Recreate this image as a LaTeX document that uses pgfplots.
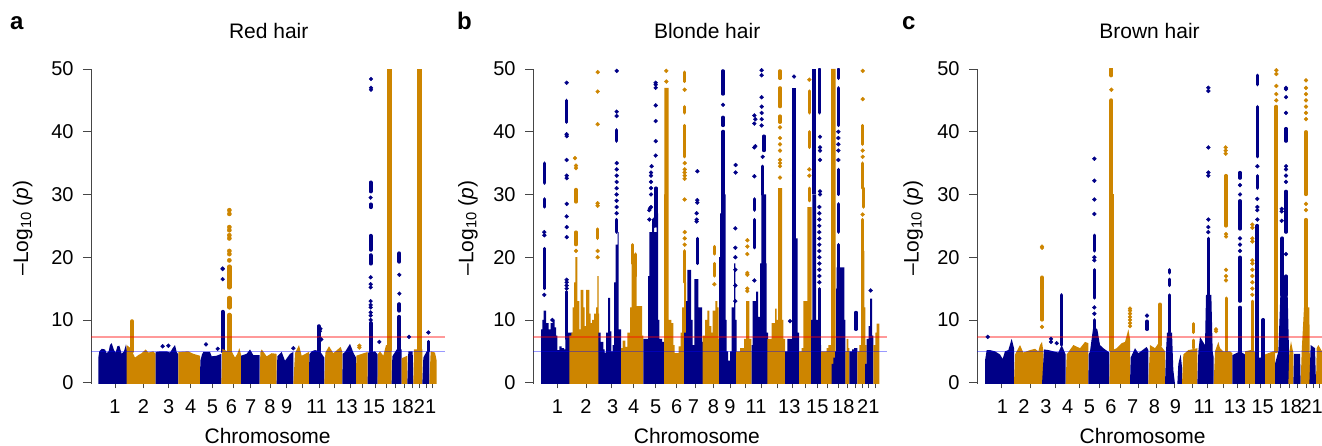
\documentclass[border=0pt]{standalone}
\usepackage{fontspec}
\setmainfont{Liberation Sans}
\usepackage{pgfplots}
\pgfplotsset{compat=1.18}
\definecolor{nv}{RGB}{0,0,135}
\definecolor{og}{RGB}{205,133,0}
\definecolor{axg}{RGB}{70,70,70}
\newcommand\TL[2]{\hspace*{#1pt}#2}
\newcommand\fs{\fontsize{20}{22}\selectfont}
\newcommand\fl{\fontsize{21}{23}\selectfont}
\pgfplotsset{
 panel/.style={scale only axis, height=314.95pt, ymin=-0.2, ymax=50,
  axis x line=bottom, axis y line=left,
  axis line style={-}, y axis line style={draw=axg,line width=1pt}, x axis line style={draw=none},
  ytick={0,10,20,30,40,50},
  /pgf/number format/assume math mode=true,
  tick label style={font=\fs, text=black},
  label style={font=\fl}, title style={font=\fl, anchor=base},
  tick align=outside,
  ytick style={draw=axg,line width=0.9pt,/pgfplots/major tick length=8pt},
  xtick style={draw=axg,line width=0.9pt,/pgfplots/major tick length=4.5pt},
  yticklabel style={inner sep=0pt, xshift=-13pt},
  xticklabel style={inner sep=0pt, yshift=-11pt},
  ylabel={–Log\textsubscript{10} (\textit{p})}, xlabel={Chromosome},
 },
 m/.style={draw=none,fill=#1},
 k/.style={const plot,draw=none,fill=#1},
 D/.style={only marks, mark=*, mark size=#1, mark options={draw=none}},
 nd/.style={D=1.95pt, color=nv},
 od/.style={D=1.95pt, color=og},
 nc/.style={draw=nv, line width=#1pt, line cap=round, no marks},
 oc/.style={draw=og, line width=#1pt, line cap=round, no marks},
 rl/.style={draw=red, opacity=0.4, line width=1.6pt, no marks},
 bl/.style={draw=blue, opacity=0.4, line width=1.1pt, no marks},
}
\begin{document}
\begin{tikzpicture}[x=1pt,y=1pt]
\path[use as bounding box] (0,0) rectangle (1322,445);
\node[font=\bfseries\fontsize{24}{24}\selectfont, anchor=base west, inner sep=0pt] at (10,415) {a};
\node[font=\bfseries\fontsize{24}{24}\selectfont, anchor=base west, inner sep=0pt] at (457,415) {b};
\node[font=\bfseries\fontsize{24}{24}\selectfont, anchor=base west, inner sep=0pt] at (902,415) {c};

% ---------------- panel a
\begin{axis}[panel, at={(91pt,61.05pt)}, anchor=south west, width=354pt, xmin=273, xmax=1335,
 title={Red hair}, title style={at={(0.502,1.078)}},
 xlabel style={at={(0.499,-0.1875)},anchor=base},
 ylabel style={at={(-0.193,0.495)},anchor=center},
 xtick={345,430,506,572,637,700,752,810,860,908,957,1003,1050,1088,1127,1158,1187,1212,1237,1258,1278,1298},
 xticklabels={1,2,3,4,5,\TL{-4}{6},7,8,9,{},\TL{-4.6}{11},{},\TL{-6.6}{13},{},\TL{-3.4}{15},{},{},\TL{-2.6}{18},{},{},\TL{-2}{21},{}}]
\addplot[m=nv] coordinates {(295,-0.2)(295,4)(298,5)(305,5.4)(315,5.3)(320,4.7)(326,5)(330,6)(335,6.3)(342,5.2)(347,4.8)(352,5.8)(358,5.9)(365,4.6)(372,5)(378,6.1)(381,5)(381,-0.2)} --cycle;
\addplot[m=og] coordinates {(380,-0.2)(380,6)(392,5.5)(405,4)(415,4.4)(425,4.7)(437,5.3)(445,4.8)(460,5)(467,4.6)(467,-0.2)} --cycle;
\addplot[oc=4] coordinates {(396,5)(396,9.8)};
\addplot[m=nv] coordinates {(467,-0.2)(467,4.9)(480,5)(490,5)(500,5)(510,4.8)(518,5.5)(525,6)(530,4.9)(535,4.5)(535,-0.2)} --cycle;
\addplot[nd] coordinates {(488,5.8)(505,5.9)};
\addplot[m=og] coordinates {(535,-0.2)(535,4.9)(565,5)(580,4.6)(600,4.3)(600,-0.2)} --cycle;
\addplot[m=nv] coordinates {(600,-0.2)(601,3.5)(606,4.5)(610,4.9)(630,4.9)(635,4.2)(650,4.3)(664,4.6)(664,-0.2)} --cycle;
\addplot[nc=4] coordinates {(668,5)(668,11.3)};
\addplot[D=1.9pt,color=nv] coordinates {(618,6.1)(653,5.4)(668,16.5)(668,18.2)(668,18.1)};
\addplot[m=og] coordinates {(664,-0.2)(667,5.4)(682,5)(695,5)(705,4)(712,4.6)(718,5.5)(723,4.5)(723,-0.2)} --cycle;
\addplot[oc=4.5] coordinates {(688,5)(688,10.8)};
\addplot[oc=4.4] coordinates {(688,15.2)(688,18.5)};
\addplot[oc=4.4] coordinates {(688,12)(688,13.5)};
\addplot[D=2.1pt,color=og] coordinates {(688,19.5)(688,20.5)(688,21)(688,23)(688,23.5)(688,24.3)(688,24.8)(688,26.9)(688,27.5)};
\addplot[m=nv] coordinates {(723,-0.2)(723,4.3)(740,4.6)(750,5.3)(760,4.4)(779,4.4)(779,-0.2)} --cycle;
\addplot[m=og] coordinates {(779,-0.2)(781,4.8)(785,5.3)(800,4.2)(815,4.7)(830,4.6)(830,-0.2)} --cycle;
\addplot[m=nv] coordinates {(830,-0.2)(832,4.2)(845,4.9)(855,3.5)(870,4.6)(880,4.9)(880,-0.2)} --cycle;
\addplot[nd] coordinates {(880,5.5)};
\addplot[m=og] coordinates {(880,-0.2)(885,4.7)(897,6)(905,4.3)(927,4.9)(927,-0.2)} --cycle;
\addplot[m=nv] coordinates {(927,-0.2)(928,4.5)(935,5)(945,5.2)(960,5)(973,4)(973,-0.2)} --cycle;
\addplot[nc=4] coordinates {(956,5)(956,9)};
\addplot[nd] coordinates {(960,8.2)(961,8.6)(958,6.9)(964,6.9)};
\addplot[m=og] coordinates {(973,-0.2)(976,4.8)(987,5.8)(1000,4.7)(1022,5.7)(1027,4.9)(1027,-0.2)} --cycle;
\addplot[m=nv] coordinates {(1027,-0.2)(1028,4.6)(1035,4.9)(1050,6.2)(1060,4.8)(1068,4)(1068,-0.2)} --cycle;
\addplot[m=og] coordinates {(1068,-0.2)(1069,4.3)(1080,4.5)(1103,4.9)(1103,-0.2)} --cycle;
\addplot[od] coordinates {(1078,5.6)(1078,5.9)};
\addplot[m=nv] coordinates {(1103,-0.2)(1104,4.8)(1125,5)(1133,4.5)(1133,-0.2)} --cycle;
\addplot[nc=4] coordinates {(1112,5)(1112,9.5)};
\addplot[nc=4.2] coordinates {(1112,19)(1112,20.3)};
\addplot[nc=4.2] coordinates {(1112,21.2)(1112,23.4)};
\addplot[nc=4.2] coordinates {(1112,28)(1112,28.4)};
\addplot[nc=4.2] coordinates {(1112,30.5)(1112,31.9)};
\addplot[D=1.9pt,color=nv] coordinates {(1112,10)(1112,10.7)(1112,11.2)(1112,12)(1112,12.4)(1112,13)(1112,15.2)(1112,15.7)(1112,16.8)(1112,29.5)(1113,46.7)(1113,47)(1113,48.4)(1138,6.5)};
\addplot[m=og] coordinates {(1133,-0.2)(1134,4.6)(1140,5)(1150,4.3)(1158,6)(1175,6)(1175,-0.2)} --cycle;
\addplot[draw=og,line width=4.7pt,no marks] coordinates {(1169,5)(1169,50)};
\addplot[m=nv] coordinates {(1175,-0.2)(1177,4.2)(1190,5.3)(1205,5.3)(1205,-0.2)} --cycle;
\addplot[nc=4] coordinates {(1198,5)(1198,10.5)};
\addplot[nc=4.2] coordinates {(1198,19.3)(1198,20.6)};
\addplot[nc=4.2] coordinates {(1198,11.5)(1198,12.5)};
\addplot[D=1.9pt,color=nv] coordinates {(1198,14.2)(1198,17.2)(1227,7.3)};
\addplot[m=og] coordinates {(1205,-0.2)(1205,3.9)(1222,4.3)(1222,-0.2)} --cycle;
\addplot[m=nv] coordinates {(1222,-0.2)(1225,5)(1238,5)(1240,-0.2)} --cycle;
\addplot[m=og] coordinates {(1240,-0.2)(1242,5.3)(1267,5.3)(1267,-0.2)} --cycle;
\addplot[draw=og,line width=4.7pt,no marks] coordinates {(1258,5)(1258,50)};
\addplot[m=nv] coordinates {(1267,-0.2)(1270,4)(1280,5)(1288,5)(1288,-0.2)} --cycle;
\addplot[nc=3] coordinates {(1285,5)(1285,6.6)};
\addplot[nd] coordinates {(1285,8)};
\addplot[m=og] coordinates {(1288,-0.2)(1292,5)(1305,4.8)(1310,3.5)(1310,-0.2)} --cycle;
\addplot[rl] coordinates {(273,7.3)(1335,7.3)};
\addplot[bl] coordinates {(273,5)(1335,5)};
\end{axis}

% ---------------- panel b
\begin{axis}[panel, at={(533pt,61.05pt)}, anchor=south west, width=354pt, xmin=249, xmax=1311,
 title={Blonde hair}, title style={at={(0.492,1.078)}},
 xlabel style={at={(0.463,-0.1875)},anchor=base},
 ylabel style={at={(-0.184,0.495)},anchor=center},
 xtick={322,408,485,551,617,678,737,790,840,887,935,982,1027,1067,1102,1133,1165,1192,1215,1237,1255,1276},
 xticklabels={1,2,\TL{2}{3},4,5,\TL{1.3}{6},\TL{-4.6}{7},8,9,{},\TL{-11.3}{11},{},\TL{-6}{13},{},15,{},{},\TL{-8}{18},{},{},21,{}}]
\addplot[k=nv] coordinates {(273,-0.2)(273,8.5)(277,10)(281,11.5)(288,9.5)(296,8.5)(302,9.5)(308,10)(314,8.8)(318,7.5)(322,5.2)(328,5.8)(335,5.5)(342,5.3)(346,8)(368,-0.2)} --cycle;
\addplot[nc=3.3] coordinates {(283,15)(283,21.4)};
\addplot[nc=3.3] coordinates {(283,31.8)(283,35)};
\addplot[nc=3.3] coordinates {(283,28)(283,29.3)};
\addplot[nd] coordinates {(283,14)(283,23.5)(283,24)(307,10)};
\addplot[nc=3] coordinates {(350,7)(350,14.5)};
\addplot[nc=3.3] coordinates {(350,41.5)(350,45)};
\addplot[nd] coordinates {(350,15)(350,15.5)(350,16)(350,16.4)(350,23.2)(350,24.8)(350,26.5)(350,28.5)(350,32.6)(350,33)(350,35.5)(350,39.3)(350,39.6)(350,47.8)};
\addplot[k=og] coordinates {(358,-0.2)(358,7.5)(364,8)(368,12)(372,16)(376,20)(382,13)(388,8.5)(392,14.8)(396,14.8)(400,12)(404,9)(408,14.8)(412,14.8)(418,11)(422,9.5)(426,10)(432,11)(438,12)(442,17)(446,11)(447,-0.2)} --cycle;
\addplot[oc=3.3] coordinates {(378,28.8)(378,30.8)};
\addplot[oc=3.3] coordinates {(378,22)(378,24)};
\addplot[od] coordinates {(378,21)(378,34.2)(378,34.6)(375,35.8)};
\addplot[oc=3.3] coordinates {(443,23)(443,24.5)};
\addplot[od] coordinates {(443,20)(443,21)(443,28.2)(443,28.6)(443,41.2)(443,46.4)(443,49.5)};
\addplot[k=nv] coordinates {(445,-0.2)(445,8)(452,6.5)(460,5.3)(464,4.8)(468,8)(474,13.5)(480,8.2)(484,5)(488,6)(492,16)(497,22)(503,24)(506,8.5)(513,-0.2)} --cycle;
\addplot[nc=3.5] coordinates {(500,24)(500,26)};
\addplot[nc=3.3] coordinates {(500,38.5)(500,40.3)};
\addplot[nd] coordinates {(500,27)(500,28)(500,29)(500,30)(500,31)(500,32)(500,33)(500,34)(500,35)(500,42.5)(500,43.2)(500,49.7)};
\addplot[k=og] coordinates {(513,-0.2)(513,5.5)(518,6.7)(526,5.7)(532,8)(540,12)(545,19)(552,20)(560,12.2)(572,12.2)(576,7.5)(580,-0.2)} --cycle;
\addplot[oc=3.3] coordinates {(548,19)(548,22)};
\addplot[oc=3.3] coordinates {(556,17)(556,20.5)};
\addplot[k=nv] coordinates {(580,-0.2)(580,7)(590,7)(594,17)(598,24)(606,26)(612,24)(620,27)(624,10)(628,7)(636,6.5)(642,-0.2)} --cycle;
\addplot[nc=3.5] coordinates {(618,25)(618,31)};
\addplot[nd] coordinates {(598,27.5)(600,27.8)(603,28)(598,26)(603,30)(603,31)(603,32)(603,33)(603,33.5)(605,34.5)(617,36.2)(617,38.5)(617,41.7)(617,44.2)(617,47)(617,47.5)(617,47.8)(612,25)(612,26)};
\addplot[k=og] coordinates {(642,-0.2)(642,30)(643,47)(656,10)(664,9.5)(670,6)(674,4.7)(686,5.8)(692,8)(696,12)(702,16)(708,-0.2)} --cycle;
\addplot[oc=3.5] coordinates {(704,16)(704,21)};
\addplot[oc=3.3] coordinates {(704,36)(704,41)};
\addplot[oc=3.3] coordinates {(704,43)(704,44)};
\addplot[oc=3.3] coordinates {(704,48)(704,49.5)};
\addplot[od] coordinates {(704,22)(704,23)(704,24)(704,29.2)(704,32.5)(704,33)(704,33.5)(704,34)(704,35)(704,46.7)(649,48)(649,49.7)};
\addplot[k=nv] coordinates {(702,-0.2)(702,8)(708,13)(712,18)(723,10)(728,6)(733,16.5)(745,12)(756,6.5)(760,-0.2)} --cycle;
\addplot[nc=3.3] coordinates {(742,19)(742,23)};
\addplot[nd] coordinates {(740,25.7)(740,26)(740,27)(742,28.7)(742,29.1)(742,33.7)};
\addplot[k=og] coordinates {(758,-0.2)(758,7.5)(765,10)(772,11.5)(778,9)(784,8)(788,11.5)(796,13)(802,12)(806,7)(807,-0.2)} --cycle;
\addplot[oc=3.3] coordinates {(793,17)(793,19)};
\addplot[oc=3.3] coordinates {(793,20.5)(793,21.7)};
\addplot[od] coordinates {(793,15.7)};
\addplot[k=nv] coordinates {(807,-0.2)(807,20)(810,27)(813,30)(827,10)(830,5)(834,3.5)(840,5)(845,12)(852,19)(856,10)(860,-0.2)} --cycle;
\addplot[nc=4] coordinates {(820,30)(820,40)};
\addplot[nc=3.3] coordinates {(819,41)(819,42.3)};
\addplot[nc=3.3] coordinates {(819,46)(819,49.7)};
\addplot[nd] coordinates {(819,44.3)(856,18)(856,20)(856,21.5)(856,24.6)(857,33.5)(857,34.7)(856,15.5)(856,13)};
\addplot[k=og] coordinates {(858,-0.2)(858,5)(870,5.5)(882,7)(888,13)(898,7)(904,5)(905,-0.2)} --cycle;
\addplot[od] coordinates {(892,15)(892,17.5)(892,20.5)(892,21.7)(892,22.7)(892,14.6)(892,17.2)};
\addplot[k=nv] coordinates {(905,-0.2)(905,6)(908,13)(918,14.5)(924,10.5)(930,19)(934,30)(948,19)(950,8)(954,5.8)(957,-0.2)} --cycle;
\addplot[nc=3.3] coordinates {(913,21.5)(913,26)};
\addplot[nc=3.3] coordinates {(913,27.5)(913,29.3)};
\addplot[nd] coordinates {(913,16.3)(913,32.9)(913,37.5)(913,41.3)(913,42.6)(916,37.7)(916,42)};
\addplot[nc=3.3] coordinates {(938,30)(938,34.5)};
\addplot[nc=3.3] coordinates {(942,37)(942,39.3)};
\addplot[nd] coordinates {(938,36)(935,41)(935,42)(935,43)(935,44)(935,45.5)(935,49)(935,49.8)};
\addplot[k=og] coordinates {(952,-0.2)(952,7)(965,9.5)(975,11.8)(980,10)(984,31)(996,10)(1000,7)(1005,-0.2)} --cycle;
\addplot[oc=3.3] coordinates {(990,41.5)(990,42.5)};
\addplot[oc=3.3] coordinates {(990,44)(990,47)};
\addplot[oc=3.3] coordinates {(990,48.5)(990,49.7)};
\addplot[od] coordinates {(990,32.7)(990,34.5)(990,35)(990,35.5)(990,37)(990,38)(990,39)(990,40.7)};
\addplot[k=nv] coordinates {(1005,-0.2)(1005,5)(1012,7)(1025,7)(1037,23)(1043,8)(1047,-0.2)} --cycle;
\addplot[draw=nv,line width=3.8pt,no marks] coordinates {(1032,5)(1032,47)};
\addplot[nd] coordinates {(1032,48.8)(1020,9.8)};
\addplot[k=og] coordinates {(1047,-0.2)(1047,5)(1055,5.5)(1060,13)(1072,28)(1085,-0.2)} --cycle;
\addplot[oc=3.3] coordinates {(1078,29)(1078,31)};
\addplot[oc=3.3] coordinates {(1078,37.5)(1078,40)};
\addplot[oc=3.3] coordinates {(1078,43)(1078,46.5)};
\addplot[od] coordinates {(1078,33)(1078,34)(1078,48.3)};
\addplot[k=nv] coordinates {(1083,-0.2)(1083,10)(1087,30)(1098,10)(1105,6)(1113,-0.2)} --cycle;
\addplot[draw=nv,line width=4pt,no marks] coordinates {(1092,30)(1092,50)};
\addplot[nc=2.8] coordinates {(1108,5)(1108,15)};
\addplot[nc=3.3] coordinates {(1108,43)(1108,50)};
\addplot[nd] coordinates {(1108,16)(1108,17)(1108,18)(1108,19)(1108,20)(1108,21)(1108,22)(1108,23)(1108,24)(1108,25)(1108,26)(1108,27)(1108,28)(1110,30)(1110,30.5)(1110,35.5)(1110,37)(1110,37.5)(1110,39.2)};
\addplot[k=og] coordinates {(1113,-0.2)(1113,5)(1130,5.5)(1135,6)(1143,50)(1157,-0.2)} --cycle;
\addplot[k=nv] coordinates {(1145,-0.2)(1145,3)(1150,4)(1155,5)(1158,15)(1160,18.4)(1183,10)(1186,5)(1187,-0.2)} --cycle;
\addplot[nc=3.5] coordinates {(1165,18)(1165,22)};
\addplot[nc=3.5] coordinates {(1165,24)(1165,28.5)};
\addplot[nc=3.3] coordinates {(1165,30)(1165,34)};
\addplot[nc=3.3] coordinates {(1165,41)(1165,47)};
\addplot[nc=3.3] coordinates {(1165,48.5)(1165,50)};
\addplot[nd] coordinates {(1165,35.5)(1165,37)(1165,38)(1165,39)(1165,40)};
\addplot[k=og] coordinates {(1186,-0.2)(1186,5)(1190,7)(1195,5.5)(1198,-0.2)} --cycle;
\addplot[k=nv] coordinates {(1198,-0.2)(1198,5)(1206,5.3)(1212,5.5)(1222,-0.2)} --cycle;
\addplot[nc=3.3] coordinates {(1218,8.5)(1218,11.2)};
\addplot[k=og] coordinates {(1222,-0.2)(1222,5)(1228,6)(1233,21)(1243,12)(1246,6)(1250,-0.2)} --cycle;
\addplot[oc=3.5] coordinates {(1238,21)(1238,26)};
\addplot[oc=3.5] coordinates {(1240,28)(1240,31)};
\addplot[oc=3.3] coordinates {(1238,31)(1238,35)};
\addplot[oc=3.3] coordinates {(1238,38)(1238,41)};
\addplot[od] coordinates {(1238,26.8)(1238,36)(1238,37)(1238,45.2)(1238,49.7)};
\addplot[k=nv] coordinates {(1245,-0.2)(1245,3)(1250,7)(1256,9)(1260,13.4)(1266,7.5)(1270,-0.2)} --cycle;
\addplot[nd] coordinates {(1262,14.7)};
\addplot[k=og] coordinates {(1270,-0.2)(1270,6)(1276,8)(1280,9.4)(1288,-0.2)} --cycle;
\addplot[rl] coordinates {(249,7.3)(1311,7.3)};
\addplot[bl] coordinates {(249,5)(1311,5)};
\end{axis}

% ---------------- panel c
\begin{axis}[panel, at={(977pt,61.05pt)}, anchor=south west, width=345pt, xmin=261, xmax=1296,
 title={Brown hair}, title style={at={(0.5,1.078)}},
 xlabel style={at={(0.48,-0.1875)},anchor=base},
 ylabel style={at={(-0.185,0.495)},anchor=center},
 xtick={335,421,497,567,628,692,745,800,852,907,953,1000,1042,1078,1110,1140,1172,1198,1222,1248,1270,1288},
 xticklabels={\TL{1.3}{1},\TL{-12.7}{2},\TL{-19.3}{3},\TL{-22.7}{4},\TL{-20}{5},\TL{-19.3}{6},\TL{-11.3}{7},\TL{-4.7}{8},\TL{2.7}{9},{},\TL{-7.3}{11},{},\TL{-4.7}{13},{},\TL{5.3}{15},{},{},\TL{3.3}{18},{},{},\TL{-3.3}{21},{}}]
\addplot[m=nv] coordinates {(285,-0.2)(285,3.5)(290,5.2)(300,5.2)(315,5)(330,4.5)(338,3.8)(345,5)(355,5.2)(365,7)(372,5.5)(372,-0.2)} --cycle;
\addplot[nd] coordinates {(293,7.3)};
\addplot[m=og] coordinates {(372,-0.2)(375,4.5)(390,6)(400,4.8)(420,5.2)(435,5.4)(445,5)(450,6)(456,6.5)(460,5)(460,-0.2)} --cycle;
\addplot[oc=3.3] coordinates {(456,10)(456,14.8)};
\addplot[oc=3.6] coordinates {(456,15)(456,16.8)};
\addplot[D=1.9pt,color=og] coordinates {(456,8.9)(456,21.5)(456,21.7)};
\addplot[m=nv] coordinates {(456,-0.2)(462,5.3)(475,5.2)(490,5)(505,4.8)(515,6)(527,4.5)(527,-0.2)} --cycle;
\addplot[nc=3.5] coordinates {(514,6)(514,14)};
\addplot[nd] coordinates {(483,6.5)(483,7)(500,6.3)};
\addplot[m=og] coordinates {(527,-0.2)(530,4.5)(550,6)(570,5.5)(585,6.5)(595,6.3)(595,-0.2)} --cycle;
\addplot[m=nv] coordinates {(595,-0.2)(596,4.5)(600,5)(610,9)(622,8.5)(630,6)(640,5.5)(658,4.8)(658,-0.2)} --cycle;
\addplot[nc=3.5] coordinates {(613,5)(613,10)};
\addplot[nc=3.5] coordinates {(613,13.5)(613,18)};
\addplot[nc=3.5] coordinates {(613,21)(613,23.5)};
\addplot[nd] coordinates {(613,11)(613,12)(613,19.5)(613,20)(613,26.9)(613,29.2)(613,32.2)(613,35.7)};
\addplot[m=og] coordinates {(658,-0.2)(660,5)(680,5.5)(695,6.3)(705,6.5)(715,8.5)(720,7)(720,-0.2)} --cycle;
\addplot[draw=og,line width=4.7pt,no marks] coordinates {(664,5)(664,30)};
\addplot[oc=4.2] coordinates {(664,30)(664,45)};
\addplot[oc=4.2] coordinates {(664,49)(664,50)};
\addplot[od] coordinates {(664,46.7)(720,9)(720,9.5)(720,10)(720,10.5)(720,11)(720,11.5)(720,11.8)};
\addplot[m=nv] coordinates {(720,-0.2)(722,4)(735,5.5)(745,4.7)(760,5.3)(770,5.7)(775,5.2)(775,-0.2)} --cycle;
\addplot[nc=3.3] coordinates {(771,8.5)(771,9.8)};
\addplot[nd] coordinates {(771,10.7)};
\addplot[m=og] coordinates {(775,-0.2)(780,6)(795,5.5)(808,6.5)(815,5.7)(825,5)(825,-0.2)} --cycle;
\addplot[oc=3.5] coordinates {(810,6)(810,12.5)};
\addplot[m=nv] coordinates {(825,-0.2)(828,5)(831,8)(846,8)(850,2)(855,-0.2)} --cycle;
\addplot[m=nv] coordinates {(862,-0.2)(865,3)(872,4.5)(876,2.5)(876,-0.2)} --cycle;
\addplot[nc=3] coordinates {(838,8)(838,14)};
\addplot[nc=3.3] coordinates {(838,15.5)(838,16.5)};
\addplot[nc=3.3] coordinates {(838,17.5)(838,18)};
\addplot[m=og] coordinates {(876,-0.2)(880,4.5)(895,5.2)(905,5.3)(922,5.5)(922,-0.2)} --cycle;
\addplot[oc=3] coordinates {(910,8)(910,9.4)};
\addplot[oc=3] coordinates {(910,5.5)(910,6.8)};
\addplot[m=nv] coordinates {(922,-0.2)(925,5)(930,7.3)(945,6)(948,14)(964,14)(968,5)(971,4)(971,-0.2)} --cycle;
\addplot[nc=3.5] coordinates {(955,5)(955,23)};
\addplot[nd] coordinates {(955,24)(955,24.8)(955,26)(955,33)(955,33.5)(955,37.5)(955,46.5)(955,47)};
\addplot[m=og] coordinates {(971,-0.2)(975,5)(985,6.5)(990,5.5)(1000,5)(1020,5)(1027,4.7)(1027,-0.2)} --cycle;
\addplot[od] coordinates {(978,8.2)(978,8.5)};
\addplot[oc=3] coordinates {(1008,5)(1008,13.5)};
\addplot[oc=3.5] coordinates {(1008,25)(1008,33)};
\addplot[od] coordinates {(1008,16.3)(1008,17)(1008,18)(1008,23.3)(1008,23.7)(1007,36.5)(1007,37)(1007,37.5)};
\addplot[m=nv] coordinates {(1027,-0.2)(1027,4.4)(1050,5)(1065,4.5)(1065,-0.2)} --cycle;
\addplot[nc=3.5] coordinates {(1050,4.5)(1050,12)};
\addplot[nc=3.3] coordinates {(1050,13)(1050,20)};
\addplot[nc=3.3] coordinates {(1050,24.5)(1050,29)};
\addplot[nc=3.3] coordinates {(1050,32.6)(1050,33.5)};
\addplot[nd] coordinates {(1050,21)(1050,22)(1050,23)(1050,30)(1050,31.5)};
\addplot[m=og] coordinates {(1065,-0.2)(1065,5)(1090,5.3)(1095,4.8)(1095,-0.2)} --cycle;
\addplot[oc=3] coordinates {(1087,5)(1087,13)};
\addplot[od] coordinates {(1087,14)(1087,15)(1087,16)(1087,17)(1087,18)(1087,19)(1087,19.5)(1087,22.5)(1087,23)(1087,24.7)(1087,25.2)};
\addplot[m=nv] coordinates {(1095,-0.2)(1095,4)(1112,4)(1125,4.5)(1125,-0.2)} --cycle;
\addplot[nc=4] coordinates {(1102,4)(1102,25)};
\addplot[nc=4] coordinates {(1120,4)(1120,10)};
\addplot[nc=3.3] coordinates {(1102,31)(1102,33)};
\addplot[nc=3.3] coordinates {(1102,36)(1102,44)};
\addplot[nc=3.3] coordinates {(1102,47.5)(1102,49)};
\addplot[nd] coordinates {(1102,26)(1102,27.5)(1102,28)(1102,29.3)(1102,34.5)};
\addplot[m=og] coordinates {(1125,-0.2)(1125,4.5)(1150,5)(1155,5)(1155,-0.2)} --cycle;
\addplot[oc=3.8] coordinates {(1159,5)(1159,44)};
\addplot[od] coordinates {(1159,45)(1159,46)(1159,47.3)(1159,49.2)(1159,49.8)};
\addplot[m=nv] coordinates {(1155,-0.2)(1155,3)(1165,5)(1171,14)(1193,14)(1197,5)(1197,-0.2)} --cycle;
\addplot[nc=4] coordinates {(1177,14)(1177,23)};
\addplot[nc=3.3] coordinates {(1188,24)(1188,30.5)};
\addplot[nc=3.3] coordinates {(1188,38.5)(1188,40.5)};
\addplot[nc=3.3] coordinates {(1188,14)(1188,17)};
\addplot[nd] coordinates {(1188,20.5)(1188,32)(1188,33)(1188,34)(1188,34.5)(1188,43)(1188,45.5)(1188,46.8)(1188,47)(1175,25.8)(1175,27.3)(1175,27.7)};
\addplot[m=og] coordinates {(1195,-0.2)(1198,5)(1203,6.6)(1210,4.7)(1210,-0.2)} --cycle;
\addplot[m=nv] coordinates {(1210,-0.2)(1212,4.6)(1230,4.6)(1232,-0.2)} --cycle;
\addplot[m=og] coordinates {(1232,-0.2)(1235,5)(1242,12)(1258,12)(1260,-0.2)} --cycle;
\addplot[oc=3.5] coordinates {(1248,5)(1248,26)};
\addplot[oc=3.3] coordinates {(1248,30)(1248,40)};
\addplot[od] coordinates {(1248,27.5)(1248,28.5)(1248,42)(1248,43)(1248,44)(1248,45)(1248,46)(1248,47)(1248,48.2)};
\addplot[m=nv] coordinates {(1258,-0.2)(1262,6)(1275,5.5)(1278,-0.2)} --cycle;
\addplot[m=og] coordinates {(1278,-0.2)(1280,5.5)(1285,6)(1296,5)(1296,-0.2)} --cycle;
\addplot[rl] coordinates {(261,7.3)(1296,7.3)};
\addplot[bl] coordinates {(261,5)(1296,5)};
\end{axis}
\end{tikzpicture}
\end{document}
